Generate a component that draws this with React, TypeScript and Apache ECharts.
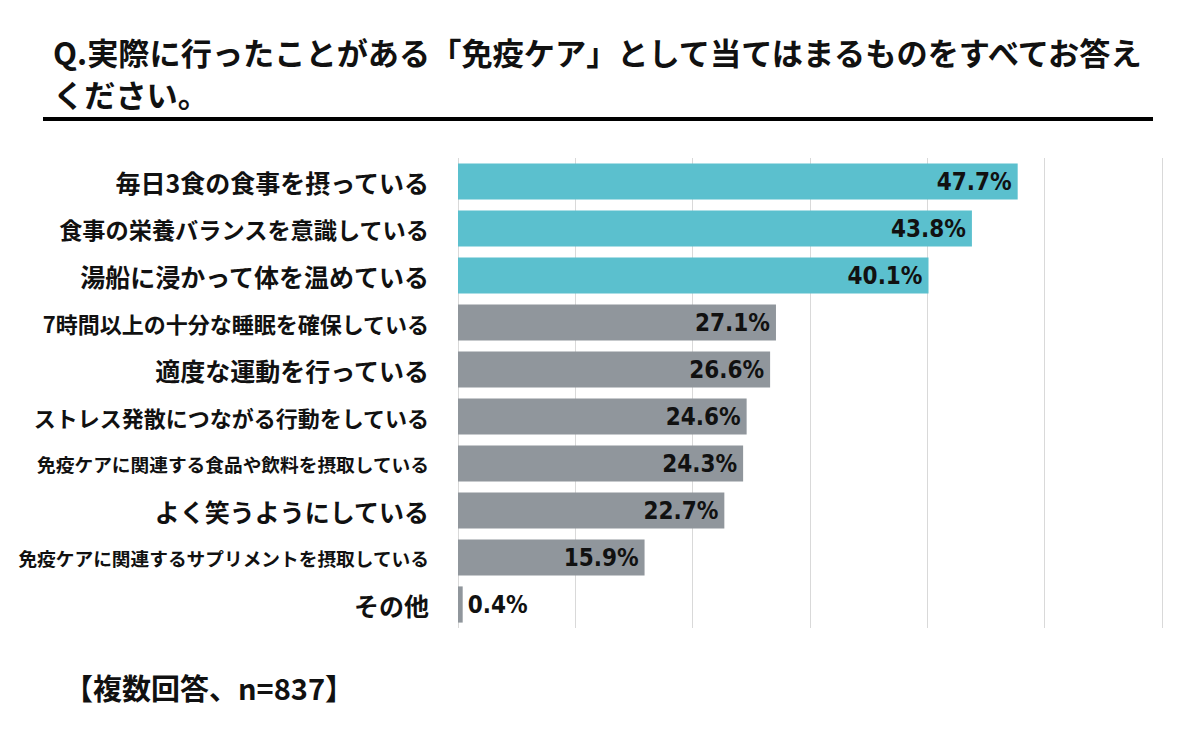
import React, { useEffect, useRef } from "react";
import * as echarts from "echarts";

const categories = [
  "毎日3食の食事を摂っている",
  "食事の栄養バランスを意識している",
  "湯船に浸かって体を温めている",
  "7時間以上の十分な睡眠を確保している",
  "適度な運動を行っている",
  "ストレス発散につながる行動をしている",
  "免疫ケアに関連する食品や飲料を摂取している",
  "よく笑うようにしている",
  "免疫ケアに関連するサプリメントを摂取している",
  "その他",
];
const values = [47.7, 43.8, 40.1, 27.1, 26.6, 24.6, 24.3, 22.7, 15.9, 0.4];
const highlightCount = 3;
const titleText = "Q.実際に行ったことがある「免疫ケア」として当てはまるものをすべてお答え\nください。";
const noteText = "【複数回答、n=837】";

// label text sizes (styling)
const labelStyleKeys = ["l", "m1", "l", "m", "l", "m", "s", "l", "s", "l"];

const TEAL = "#5BC0CE";
const GRAY = "#90969C";
const JP = "'Noto Sans CJK JP', 'Noto Sans', sans-serif";
const NARROW = "'Liberation Sans Narrow', 'DejaVu Sans Condensed', 'Liberation Sans', sans-serif";

export default function App() {
  const ref = useRef<HTMLDivElement>(null);
  useEffect(() => {
    if (!ref.current) return;
    const chart = echarts.init(ref.current, null, { renderer: "svg" });
    chart.setOption({
      animation: false,
      backgroundColor: "#ffffff",
      title: {
        text: titleText,
        left: 48,
        top: 25,
        textStyle: {
          fontFamily: JP,
          fontWeight: "bold",
          fontSize: 31.2,
          lineHeight: 42,
          color: "#111111",
        },
      },
      graphic: [
        {
          type: "rect",
          shape: { x: 43, y: 117, width: 1110, height: 4 },
          style: { fill: "#000000" },
        },
        {
          type: "text",
          left: 64,
          top: 672,
          style: {
            text: noteText,
            fontFamily: JP,
            fontWeight: "bold",
            fontSize: 29,
            fill: "#111111",
          },
        },
      ],
      grid: { left: 458, right: 38, top: 158, bottom: 110, containLabel: false },
      xAxis: {
        type: "value",
        min: 0,
        max: 60,
        interval: 10,
        axisLabel: { show: false },
        axisLine: { show: false },
        axisTick: { show: false },
        splitLine: { show: true, lineStyle: { color: "#D9D9D9", width: 1 } },
      },
      yAxis: {
        type: "category",
        inverse: true,
        data: categories,
        axisLine: { show: false },
        axisTick: { show: false },
        axisLabel: {
          margin: 29,
          formatter: (v: string, i: number) => `{${labelStyleKeys[i]}|${v}}`,
          rich: {
            l: { fontFamily: JP, fontWeight: "bold", fontSize: 25, color: "#111111" },
            m1: { fontFamily: JP, fontWeight: "bold", fontSize: 23.2, color: "#111111" },
            m: { fontFamily: JP, fontWeight: "bold", fontSize: 22, color: "#111111" },
            s: { fontFamily: JP, fontWeight: "bold", fontSize: 18.7, color: "#111111" },
          },
        },
      },
      series: [
        {
          type: "bar",
          barCategoryGap: "23%",
          data: values.map((v, i) => ({
            value: v,
            itemStyle: { color: i < highlightCount ? TEAL : GRAY },
            label: v < 3 ? { position: "right", distance: 5 } : undefined,
          })),
          label: {
            show: true,
            position: "insideRight",
            distance: 6,
            formatter: (p: any) => `${p.value.toFixed(1)}%`,
            fontFamily: NARROW,
            fontWeight: "bold",
            fontSize: 24,
            color: "#111111",
          },
        },
      ],
    });
    return () => chart.dispose();
  }, []);
  return <div ref={ref} style={{ width: 1200, height: 738, position: "absolute", left: 0, top: 0 }} />;
}
